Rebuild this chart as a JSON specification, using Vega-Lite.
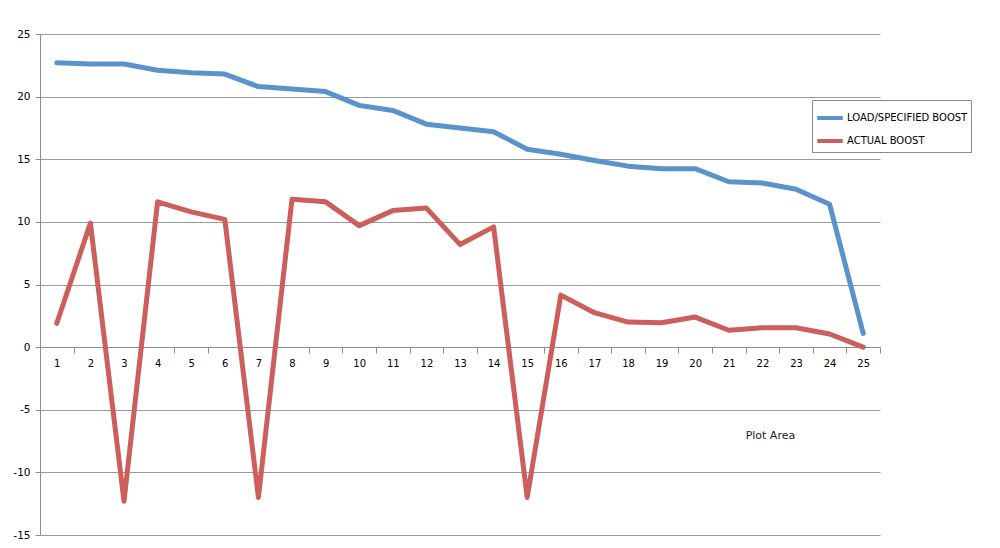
{
  "$schema": "https://vega.github.io/schema/vega-lite/v6.json",
  "autosize": "none",
  "width": 840,
  "height": 501,
  "padding": {"left": 40, "top": 34, "right": 120, "bottom": 13},
  "background": "white",
  "config": {
    "view": {"stroke": null},
    "font": "DejaVu Sans"
  },
  "data": {
    "values": [
      {"x": 1, "series": "LOAD/SPECIFIED BOOST", "value": 22.7},
      {"x": 2, "series": "LOAD/SPECIFIED BOOST", "value": 22.6},
      {"x": 3, "series": "LOAD/SPECIFIED BOOST", "value": 22.6},
      {"x": 4, "series": "LOAD/SPECIFIED BOOST", "value": 22.1},
      {"x": 5, "series": "LOAD/SPECIFIED BOOST", "value": 21.9},
      {"x": 6, "series": "LOAD/SPECIFIED BOOST", "value": 21.8},
      {"x": 7, "series": "LOAD/SPECIFIED BOOST", "value": 20.8},
      {"x": 8, "series": "LOAD/SPECIFIED BOOST", "value": 20.6},
      {"x": 9, "series": "LOAD/SPECIFIED BOOST", "value": 20.4},
      {"x": 10, "series": "LOAD/SPECIFIED BOOST", "value": 19.3},
      {"x": 11, "series": "LOAD/SPECIFIED BOOST", "value": 18.9},
      {"x": 12, "series": "LOAD/SPECIFIED BOOST", "value": 17.8},
      {"x": 13, "series": "LOAD/SPECIFIED BOOST", "value": 17.5},
      {"x": 14, "series": "LOAD/SPECIFIED BOOST", "value": 17.2},
      {"x": 15, "series": "LOAD/SPECIFIED BOOST", "value": 15.8},
      {"x": 16, "series": "LOAD/SPECIFIED BOOST", "value": 15.4},
      {"x": 17, "series": "LOAD/SPECIFIED BOOST", "value": 14.9},
      {"x": 18, "series": "LOAD/SPECIFIED BOOST", "value": 14.45},
      {"x": 19, "series": "LOAD/SPECIFIED BOOST", "value": 14.25},
      {"x": 20, "series": "LOAD/SPECIFIED BOOST", "value": 14.25},
      {"x": 21, "series": "LOAD/SPECIFIED BOOST", "value": 13.2},
      {"x": 22, "series": "LOAD/SPECIFIED BOOST", "value": 13.1},
      {"x": 23, "series": "LOAD/SPECIFIED BOOST", "value": 12.6},
      {"x": 24, "series": "LOAD/SPECIFIED BOOST", "value": 11.4},
      {"x": 25, "series": "LOAD/SPECIFIED BOOST", "value": 1.1},
      {"x": 1, "series": "ACTUAL BOOST", "value": 1.9},
      {"x": 2, "series": "ACTUAL BOOST", "value": 9.9},
      {"x": 3, "series": "ACTUAL BOOST", "value": -12.3},
      {"x": 4, "series": "ACTUAL BOOST", "value": 11.6},
      {"x": 5, "series": "ACTUAL BOOST", "value": 10.8},
      {"x": 6, "series": "ACTUAL BOOST", "value": 10.2},
      {"x": 7, "series": "ACTUAL BOOST", "value": -12.0},
      {"x": 8, "series": "ACTUAL BOOST", "value": 11.8},
      {"x": 9, "series": "ACTUAL BOOST", "value": 11.6},
      {"x": 10, "series": "ACTUAL BOOST", "value": 9.7},
      {"x": 11, "series": "ACTUAL BOOST", "value": 10.9},
      {"x": 12, "series": "ACTUAL BOOST", "value": 11.1},
      {"x": 13, "series": "ACTUAL BOOST", "value": 8.2},
      {"x": 14, "series": "ACTUAL BOOST", "value": 9.6},
      {"x": 15, "series": "ACTUAL BOOST", "value": -12.0},
      {"x": 16, "series": "ACTUAL BOOST", "value": 4.15},
      {"x": 17, "series": "ACTUAL BOOST", "value": 2.75},
      {"x": 18, "series": "ACTUAL BOOST", "value": 2.0},
      {"x": 19, "series": "ACTUAL BOOST", "value": 1.95},
      {"x": 20, "series": "ACTUAL BOOST", "value": 2.4},
      {"x": 21, "series": "ACTUAL BOOST", "value": 1.35},
      {"x": 22, "series": "ACTUAL BOOST", "value": 1.55},
      {"x": 23, "series": "ACTUAL BOOST", "value": 1.55},
      {"x": 24, "series": "ACTUAL BOOST", "value": 1.05},
      {"x": 25, "series": "ACTUAL BOOST", "value": 0.0}
    ]
  },
  "encoding": {
    "x": {
      "field": "x",
      "type": "ordinal",
      "sort": null,
      "scale": {"type": "band", "paddingInner": 0, "paddingOuter": 0},
      "axis": {
        "title": null,
        "orient": "bottom",
        "offset": -188,
        "labelAngle": 0,
        "tickBand": "extent",
        "domainColor": "#8c8c8c",
        "tickColor": "#8c8c8c",
        "tickSize": 6,
        "labelFontSize": 10,
        "labelColor": "#000000",
        "labelPadding": 5,
        "grid": false
      }
    },
    "y": {
      "field": "value",
      "type": "quantitative",
      "scale": {"domain": [-15, 25], "nice": false, "zero": false},
      "axis": {
        "title": null,
        "values": [-15, -10, -5, 0, 5, 10, 15, 20, 25],
        "labelExpr": "datum.value < 0 ? '-' + abs(datum.value) : '' + datum.value",
        "grid": true,
        "gridColor": "#9a9a9a",
        "gridWidth": 1,
        "domainColor": "#8c8c8c",
        "tickColor": "#8c8c8c",
        "tickSize": 5,
        "labelFontSize": 10.5,
        "labelColor": "#000000",
        "labelPadding": 5
      }
    }
  },
  "layer": [
    {
      "mark": {"type": "line", "strokeWidth": 5, "strokeCap": "round", "strokeJoin": "round"},
      "encoding": {
        "color": {
          "field": "series",
          "type": "nominal",
          "sort": null,
          "scale": {"domain": ["LOAD/SPECIFIED BOOST", "ACTUAL BOOST"], "range": ["#5a93cb", "#cc5e5b"]},
          "legend": {
            "title": null,
            "orient": "none",
            "legendX": 772,
            "legendY": 66,
            "symbolType": "stroke",
            "symbolStrokeWidth": 4,
            "symbolSize": 650,
            "labelFontSize": 10,
            "labelColor": "#000000",
            "rowPadding": 0,
            "strokeColor": "#8c8c8c",
            "padding": 3,
            "labelOffset": 2
          }
        }
      }
    },
    {
      "data": {"values": [{"label": "Plot Area", "cx": 22, "cy": -7.1}]},
      "mark": {"type": "text", "fontSize": 11, "color": "#222222", "dx": 8, "align": "center", "baseline": "middle"},
      "encoding": {
        "x": {"field": "cx", "type": "ordinal"},
        "y": {"field": "cy", "type": "quantitative"},
        "text": {"field": "label"}
      }
    }
  ]
}
